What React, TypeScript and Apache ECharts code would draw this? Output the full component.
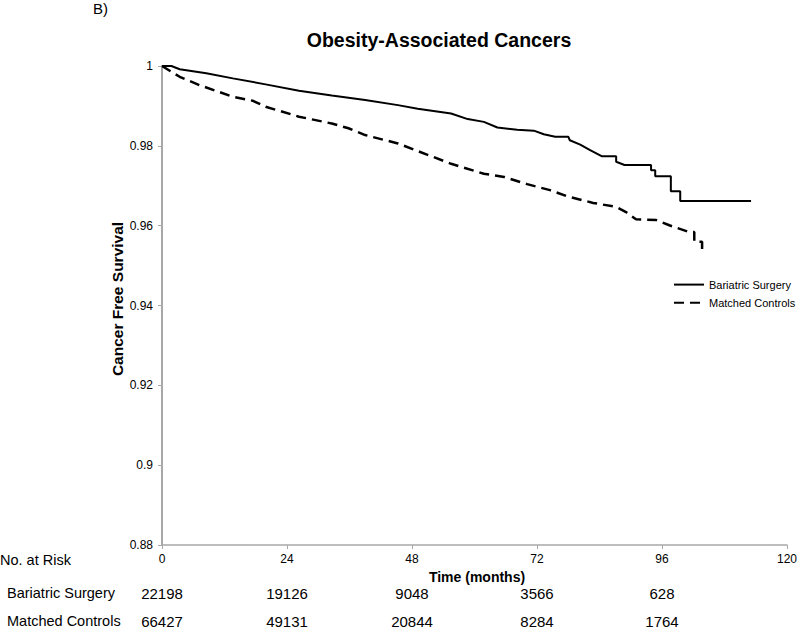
import React, { useEffect, useRef } from "react";
import * as echarts from "echarts";

const FONT = "'Liberation Sans', Arial, sans-serif";

const seriesNames = ["Bariatric Surgery", "Matched Controls"];

// [time (months), survival]
const bariatric: [number, number][] = [
  [0, 1], [1.8, 1], [3.4, 0.9992], [8.5, 0.9982], [13.6, 0.9969], [19.9, 0.9954],
  [26.3, 0.9938], [32.6, 0.9926], [39, 0.9915], [45.3, 0.9902], [49.1, 0.9893],
  [55.5, 0.9881], [58.7, 0.9867], [61.8, 0.986], [64.4, 0.9846], [68.2, 0.984],
  [71.4, 0.9838], [73.3, 0.9829], [75.5, 0.9823], [78, 0.9823], [78.3, 0.9814],
  [80.3, 0.9803], [82.2, 0.9789], [84.4, 0.9774], [87.2, 0.9774], [87.2, 0.976],
  [88.8, 0.9752], [93.9, 0.9752], [93.9, 0.9739], [94.7, 0.9739], [94.7, 0.9724],
  [97.7, 0.9724], [97.7, 0.9686], [99.5, 0.9686], [99.5, 0.9662], [113.1, 0.9662],
];

const controls: [number, number][] = [
  [0, 1], [3.4, 0.9973], [7.2, 0.9952], [13.6, 0.9923], [17.4, 0.9913], [19.9, 0.9898],
  [26.3, 0.9873], [32.6, 0.9856], [35.8, 0.9844], [39, 0.9827], [45.3, 0.9806],
  [51.7, 0.9774], [55.5, 0.9755], [61.8, 0.973], [65.7, 0.9722], [70.1, 0.9704],
  [74.5, 0.9689], [77.7, 0.9674], [82.8, 0.9657], [87.2, 0.9647], [89.1, 0.9634],
  [91, 0.9616], [94.9, 0.9614], [97.4, 0.9601], [101.2, 0.9584], [102.2, 0.9584],
  [102.2, 0.956], [103.7, 0.956], [103.7, 0.9535],
];

const riskTimes = [0, 24, 48, 72, 96];
const riskBariatric = ["22198", "19126", "9048", "3566", "628"];
const riskControls = ["66427", "49131", "20844", "8284", "1764"];

const xTicks = { min: 0, max: 120, interval: 24 };
const yTicks = { min: 0.88, max: 1, interval: 0.02 };

export default function App() {
  const ref = useRef<HTMLDivElement>(null);
  useEffect(() => {
    if (!ref.current) return;
    const chart = echarts.init(ref.current, undefined, { renderer: "svg" });
    const axisColor = "#a8a8a8";
    chart.setOption({
      animation: false,
      backgroundColor: "#ffffff",
      textStyle: { fontFamily: FONT },
      grid: { left: 162, right: 8, top: 66, bottom: 83 },
      legend: {
        orient: "vertical",
        left: 668,
        top: 274,
        itemWidth: 30,
        itemHeight: 14,
        itemGap: 7,
        itemStyle: { opacity: 0 },
        textStyle: { fontFamily: FONT, fontSize: 11, color: "#000" },
        data: seriesNames,
      },
      xAxis: {
        type: "value",
        min: xTicks.min,
        max: xTicks.max,
        interval: xTicks.interval,
        splitLine: { show: false },
        axisLine: { lineStyle: { color: axisColor, width: 1.5 } },
        axisTick: { show: true, length: 4, lineStyle: { color: axisColor } },
        axisLabel: { color: "#000", fontSize: 12, fontFamily: FONT, margin: 8 },
      },
      yAxis: {
        type: "value",
        min: yTicks.min,
        max: yTicks.max,
        interval: yTicks.interval,
        splitLine: { show: false },
        axisLine: { show: true, lineStyle: { color: axisColor, width: 2 } },
        axisTick: { show: true, length: 4, lineStyle: { color: axisColor } },
        axisLabel: {
          color: "#000",
          fontSize: 12,
          fontFamily: FONT,
          margin: 9,
          formatter: (v: number) => String(+v.toFixed(2)),
        },
      },
      series: [
        {
          name: seriesNames[0],
          type: "line",
          data: bariatric,
          symbol: "none",
          lineStyle: { color: "#000", width: 2 },
          itemStyle: { color: "#000" },
        },
        {
          name: seriesNames[1],
          type: "line",
          data: controls,
          symbol: "none",
          lineStyle: { color: "#000", width: 2.5, type: [10, 6] },
          itemStyle: { color: "#000" },
        },
      ],
    });

    const rowY = [593, 621];
    const graphics: any[] = [
      {
        type: "text", x: 93, y: 8,
        style: { text: "B)", fontSize: 15, fontFamily: FONT, fill: "#000", textVerticalAlign: "middle" },
      },
      {
        type: "text", x: 439, y: 40,
        style: { text: "Obesity-Associated Cancers", fontSize: 19.5, fontWeight: "bold", fontFamily: FONT, fill: "#000", textAlign: "center", textVerticalAlign: "middle" },
      },
      {
        type: "text", x: 117, y: 299, rotation: Math.PI / 2,
        style: { text: "Cancer Free Survival", fontSize: 15.5, fontWeight: "bold", fontFamily: FONT, fill: "#000", textAlign: "center", textVerticalAlign: "middle" },
      },
      {
        type: "text", x: 477, y: 577,
        style: { text: "Time (months)", fontSize: 14, fontWeight: "bold", fontFamily: FONT, fill: "#000", textAlign: "center", textVerticalAlign: "middle" },
      },
      {
        type: "text", x: 0, y: 560,
        style: { text: "No. at Risk", fontSize: 14.5, fontFamily: FONT, fill: "#000", textVerticalAlign: "middle" },
      },
      {
        type: "text", x: 7, y: rowY[0],
        style: { text: seriesNames[0], fontSize: 14.5, fontFamily: FONT, fill: "#000", textVerticalAlign: "middle" },
      },
      {
        type: "text", x: 7, y: rowY[1],
        style: { text: seriesNames[1], fontSize: 14.5, fontFamily: FONT, fill: "#000", textVerticalAlign: "middle" },
      },
    ];
    riskTimes.forEach((t, i) => {
      const px = chart.convertToPixel({ xAxisIndex: 0 }, t) as number;
      [riskBariatric, riskControls].forEach((row, r) => {
        graphics.push({
          type: "text", x: px, y: rowY[r],
          style: { text: row[i], fontSize: 15, fontFamily: FONT, fill: "#000", textAlign: "center", textVerticalAlign: "middle" },
        });
      });
    });
    chart.setOption({ graphic: graphics });

    return () => chart.dispose();
  }, []);
  return (
    <div
      ref={ref}
      style={{ position: "fixed", left: 0, top: 0, width: 800, height: 628, background: "#fff" }}
    />
  );
}
